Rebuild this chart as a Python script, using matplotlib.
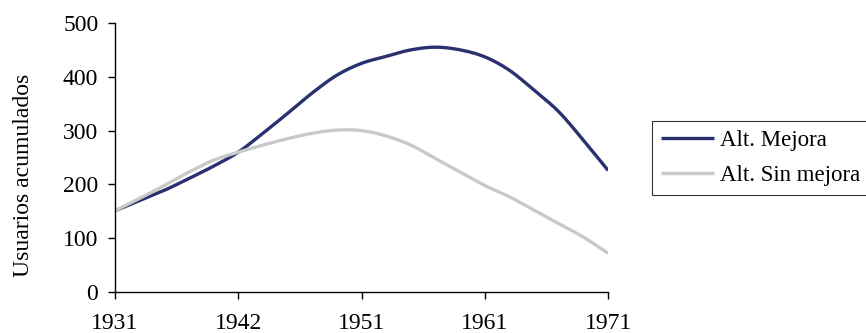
import matplotlib
matplotlib.use("Agg")
import matplotlib.pyplot as plt
import numpy as np

plt.rcParams['font.family'] = ['Liberation Serif', 'DejaVu Serif']

# Data (21 evenly spaced points between 1931 and 1971)
tick_labels = ['1931', '1942', '1951', '1961', '1971']
alt_mejora = [151, 170, 189, 211, 234, 260, 295, 332, 370, 403, 425,
              438, 450, 455, 450, 437, 412, 375, 335, 282, 226]
alt_sin_mejora = [151, 174, 198, 223, 245, 260, 273, 285, 295, 301, 300,
                  290, 273, 248, 223, 198, 177, 152, 127, 102, 72]


def smooth(xs, ys, k=12):
    """Catmull-Rom smoothing through the data points (like Excel smoothed lines)."""
    xs = np.asarray(xs, float)
    ys = np.asarray(ys, float)
    px = np.concatenate([[2 * xs[0] - xs[1]], xs, [2 * xs[-1] - xs[-2]]])
    py = np.concatenate([[2 * ys[0] - ys[1]], ys, [2 * ys[-1] - ys[-2]]])
    t = np.linspace(0, 1, k, endpoint=False)
    ox, oy = [], []
    for i in range(1, len(px) - 2):
        for p, o in ((px, ox), (py, oy)):
            p0, p1, p2, p3 = p[i - 1], p[i], p[i + 1], p[i + 2]
            o.extend(0.5 * ((2 * p1) + (-p0 + p2) * t
                            + (2 * p0 - 5 * p1 + 4 * p2 - p3) * t ** 2
                            + (-p0 + 3 * p1 - 3 * p2 + p3) * t ** 3))
    ox.append(xs[-1])
    oy.append(ys[-1])
    return np.array(ox), np.array(oy)


n = len(alt_mejora)
x = np.arange(n)
tick_pos = np.linspace(0, n - 1, len(tick_labels))

fig = plt.figure(figsize=(8.66, 3.33), dpi=100)
ax = fig.add_axes([0.1328, 0.123, 0.7022 - 0.1328, 0.931 - 0.123])

sx, sy = smooth(x, alt_mejora)
ax.plot(sx, sy, color='#2A3170', lw=2.4, label='Alt. Mejora',
        solid_joinstyle='round', solid_capstyle='butt')
sx, sy = smooth(x, alt_sin_mejora)
ax.plot(sx, sy, color='#C9C9C9', lw=2.4, label='Alt. Sin mejora',
        solid_joinstyle='round', solid_capstyle='butt')

ax.set_xlim(0, n - 1)
ax.set_ylim(0, 500)
ax.set_yticks([0, 100, 200, 300, 400, 500])
ax.set_xticks(tick_pos)
ax.set_xticklabels(tick_labels)

for s in ['top', 'right']:
    ax.spines[s].set_visible(False)
for s in ['left', 'bottom']:
    ax.spines[s].set_linewidth(1.0)
    ax.spines[s].set_color('black')

ax.tick_params(axis='both', direction='out', length=5, width=1.0,
               labelsize=17, colors='black')
ax.tick_params(axis='y', pad=7)
ax.tick_params(axis='x', pad=10)

ax.set_ylabel('Usuarios acumulados', fontsize=17)
ax.yaxis.set_label_coords(-0.165, 0.435)

leg = fig.legend(loc='upper left', bbox_to_anchor=(0.753, 0.637),
                 frameon=True, fancybox=False, fontsize=16.5,
                 handlelength=2.3, handletextpad=0.26, borderpad=0.4,
                 labelspacing=0.6, borderaxespad=0)
leg.get_frame().set_edgecolor('black')
leg.get_frame().set_linewidth(0.8)

fig.savefig('out.png', dpi=100)
